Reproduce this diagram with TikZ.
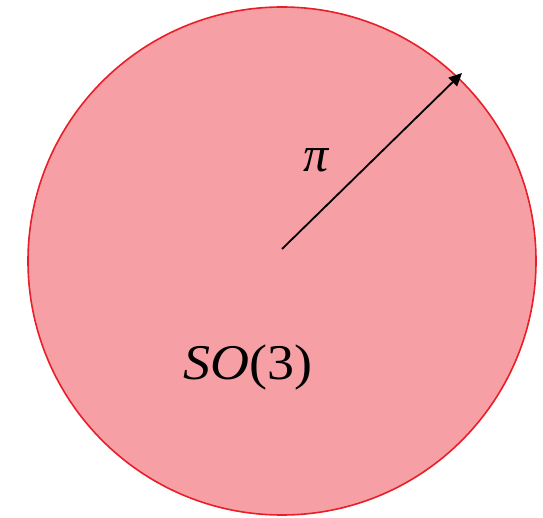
\documentclass[tikz,border=0pt]{standalone}
\usepackage{fontspec}
\setmainfont{Liberation Serif}
\usetikzlibrary{arrows.meta}
\definecolor{discfill}{RGB}{246,160,165}
\definecolor{discline}{RGB}{232,30,40}
\tikzset{
  disc/.style={draw=discline, fill=discfill, line width=1.6pt},
  radius arrow/.style={draw=black, line width=1.8pt, -{Triangle[length=13pt,width=12pt]}},
  lbl/.style={font=\fontsize{50}{56}\selectfont\itshape, inner sep=0pt}
}
\begin{document}
\begin{tikzpicture}[x=1pt,y=1pt]
\useasboundingbox (0,0) rectangle (543,517);
\node[disc, circle, minimum size=508pt, inner sep=0pt] (disc) at (282,256) {};
\coordinate (c) at (282,268);
\coordinate (tip) at (462,444);
\draw[radius arrow] (c) -- (tip);
\node[lbl] (pi) at (316,357) {π};
\node[lbl, xscale=1.08] (so) at (248,150) {SO\upshape(3)};
\end{tikzpicture}
\end{document}
